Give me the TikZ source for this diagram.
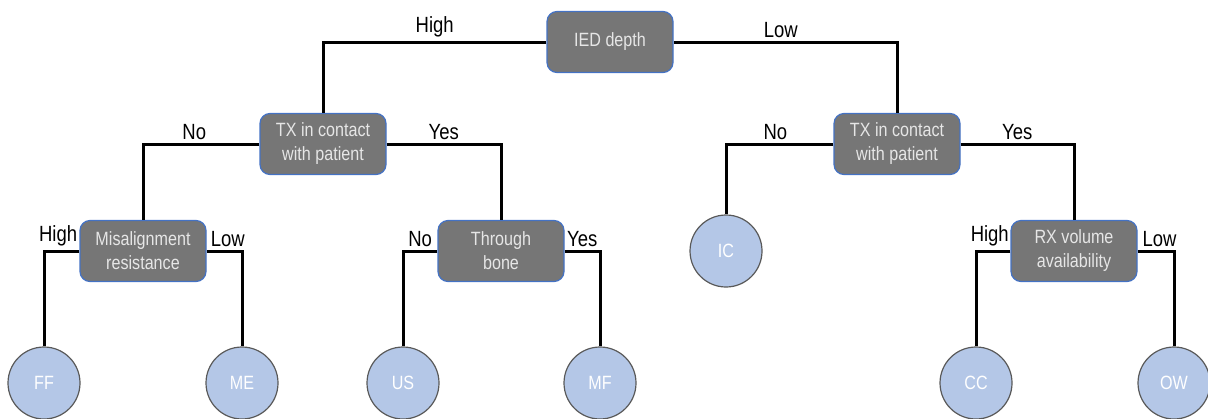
\documentclass[tikz,border=0pt]{standalone}
\usepackage{fontspec}
\setmainfont{Liberation Sans}[FakeStretch=0.84]
\usetikzlibrary{positioning}

\definecolor{boxgray}{RGB}{118,118,118}
\definecolor{boxedge}{RGB}{68,114,196}
\definecolor{boxtext}{RGB}{230,230,230}
\definecolor{leafblue}{RGB}{180,199,231}
\definecolor{leafedge}{RGB}{89,89,89}

\begin{document}
\begin{tikzpicture}[
  x=0.5pt, y=-0.5pt,
  test/.style   = {draw=boxedge, fill=boxgray, rounded corners=5pt, line width=0.6pt,
                   minimum width=63pt, minimum height=30.5pt, inner sep=0pt,
                   align=center, text=boxtext, font=\fontsize{9.6}{12}\selectfont},
  leaf/.style   = {circle, draw=leafedge, fill=leafblue, line width=0.6pt,
                   minimum size=36pt, inner sep=0pt, text=white,
                   font=\fontsize{9.6}{12}\selectfont},
  branch/.style = {line width=1.5pt},
  lbl/.style    = {above, inner sep=1.5pt, font=\fontsize{11}{13}\selectfont},
]
  \useasboundingbox (0,0) rectangle (1208,418);

  % decision boxes
  \node[test] (ied)  at (610,42)  {IED depth};
  \node[test] (txl)  at (323,144) {TX in contact\\with patient};
  \node[test] (txr)  at (897,144) {TX in contact\\with patient};
  \node[test] (mis)  at (143,251) {Misalignment\\resistance};
  \node[test] (bone) at (501,251) {Through\\bone};
  \node[test] (rx)   at (1074,251) {RX volume\\availability};

  % leaves
  \node[leaf] (ff) at (44,383)   {FF};
  \node[leaf] (me) at (242,383)  {ME};
  \node[leaf] (us) at (403,383)  {US};
  \node[leaf] (mf) at (600,383)  {MF};
  \node[leaf] (ic) at (726,251)  {IC};
  \node[leaf] (cc) at (976,383)  {CC};
  \node[leaf] (ow) at (1174,383) {OW};

  % branches
  \draw[branch] (ied.west)  -| node[pos=0.25, lbl]{High} (txl.north);
  \draw[branch] (ied.east)  -| node[pos=0.24, lbl]{Low}  (txr.north);
  \draw[branch] (txl.west)  -| node[pos=0.28, lbl]{No}   (mis.north);
  \draw[branch] (txl.east)  -| node[pos=0.25, lbl]{Yes}  (bone.north);
  \draw[branch] (txr.west)  -| node[pos=0.27, lbl]{No}   (ic.north);
  \draw[branch] (txr.east)  -| node[pos=0.25, lbl]{Yes}  (rx.north);
  \draw[branch] (mis.west)  -| node[pos=0.3, lbl]{High} (ff.north);
  \draw[branch] (mis.east)  -| node[pos=0.3, lbl]{Low}  (me.north);
  \draw[branch] (bone.west) -| node[pos=0.25, lbl]{No}   (us.north);
  \draw[branch] (bone.east) -| node[pos=0.25, lbl]{Yes}  (mf.north);
  \draw[branch] (rx.west)   -| node[pos=0.3, lbl]{High} (cc.north);
  \draw[branch] (rx.east)   -| node[pos=0.3, lbl]{Low}  (ow.north);
\end{tikzpicture}
\end{document}
